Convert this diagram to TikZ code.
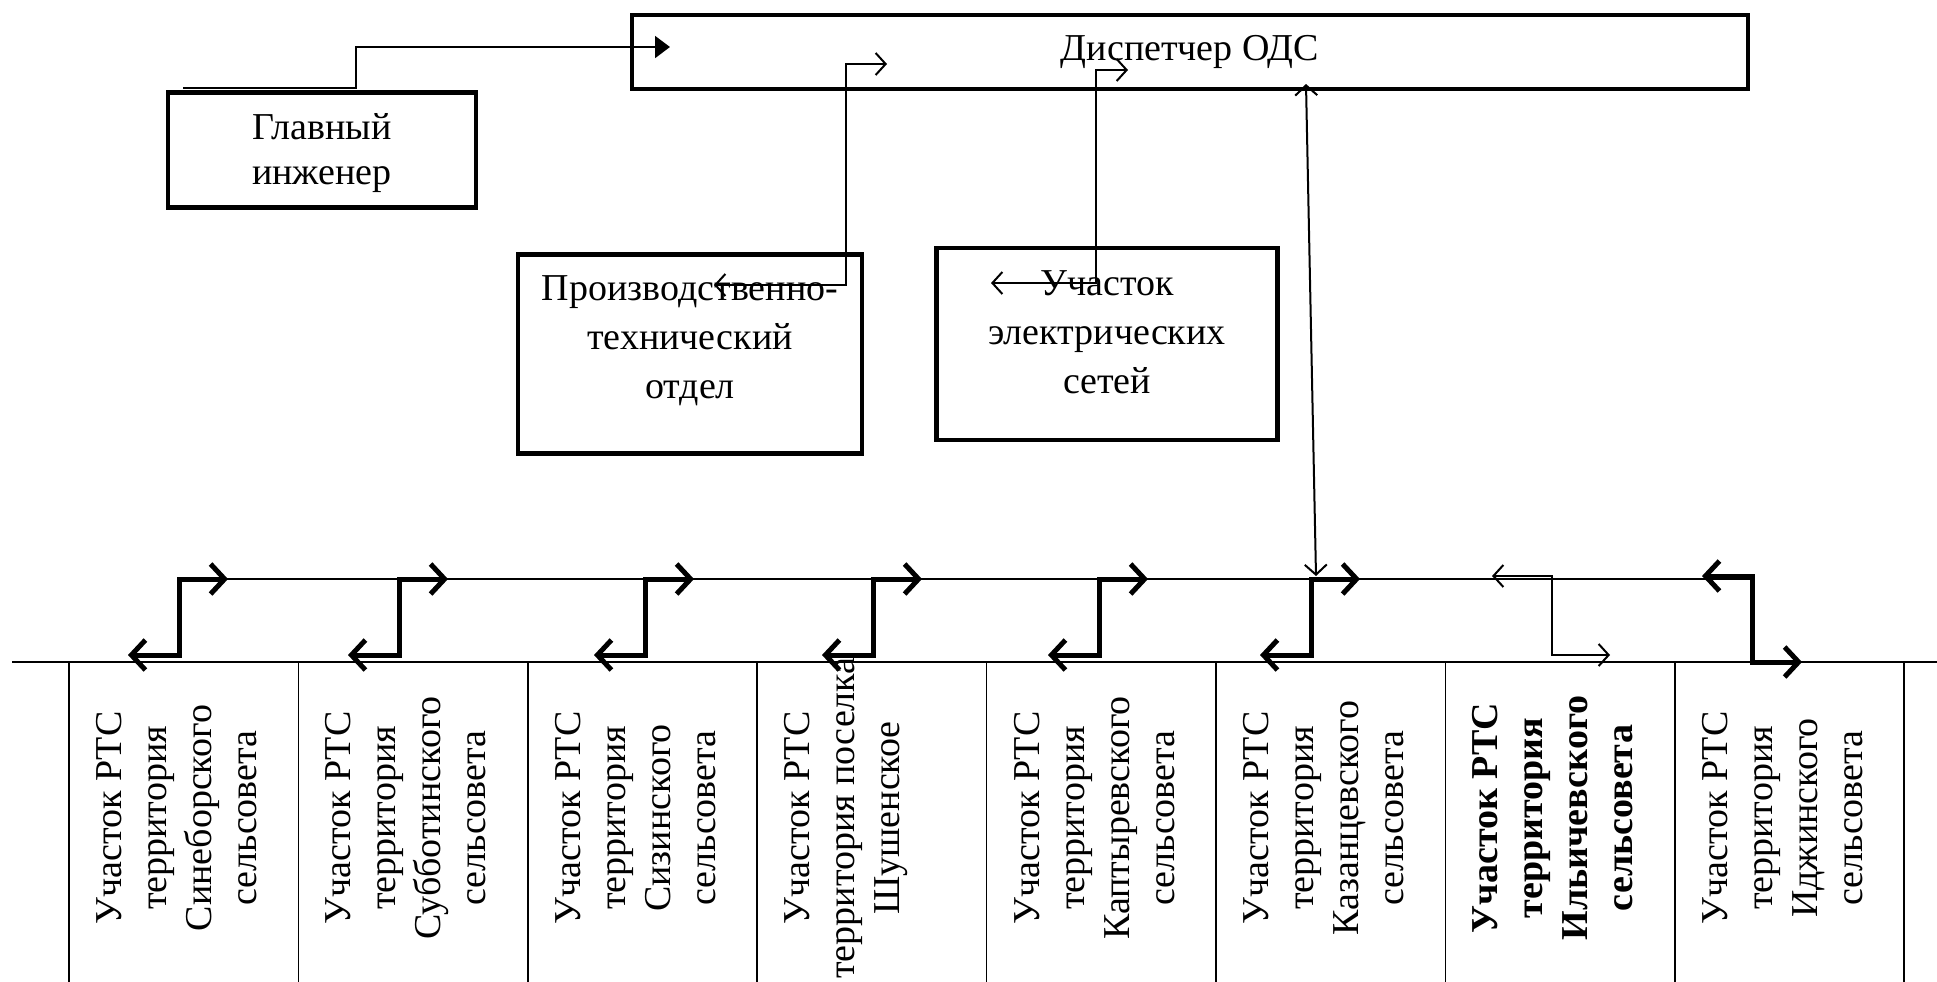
\documentclass[tikz,border=0pt]{standalone}
\usepackage{fontspec}
\setmainfont{Liberation Serif}
\usetikzlibrary{arrows.meta}
\newcommand\boxfont{\fontsize{19pt}{24.5pt}\selectfont}
\newcommand\unitfont{\fontsize{19pt}{22.5pt}\selectfont}
\tikzset{
  box/.style  = {shape=rectangle, draw, line width=2.4pt,
                 align=center, inner sep=0pt, font=\boxfont},
  txt/.style  = {align=center, inner sep=0pt, font=\boxfont},
  unit/.style = {txt, font=\unitfont, rotate=90, anchor=north},
  feed/.style = {line width=1pt, -{Triangle[length=7.5pt,width=11pt]}},
  link/.style = {line width=1pt,
                 {Straight Barb[length=5pt,width=11pt]}-{Straight Barb[length=5pt,width=11pt]}},
  hop/.style  = {line width=2.5pt,
                 {Straight Barb[length=7pt,width=15pt]}-{Straight Barb[length=7pt,width=15pt]}},
  bus/.style  = {line width=1pt},
  rule/.style = {line width=0.8pt}
}

\begin{document}
\begin{tikzpicture}[x=0.5pt, y=-0.5pt]
 \useasboundingbox (0,0) rectangle (1937,981);

 % upper boxes
 \node [box, minimum width=154pt, minimum height=57.5pt] (gi) at (322,150) {};
 \node [txt, font=\unitfont] (gi-t) at (322,153) {Главный\\инженер};
 \node [box, minimum width=558pt, minimum height=37pt] (ods) at (1190,52) {Диспетчер ОДС};
 \node [box, minimum width=172pt, minimum height=99.5pt] (pto) at (690,354) {};
 \node [txt] (pto-t) at (690,341) {Производственно-\\технический\\отдел};
 \node [box, minimum width=170.5pt, minimum height=96pt] (ues) at (1107,344) {};
 \node [txt] (ues-t) at (1107,332) {Участок\\электрических\\сетей};

 % ends of the connectors
 \coordinate (gi-out) at (183,88);
 \coordinate (ods-a)  at (670,47);
 \coordinate (ods-b)  at (887,64);
 \coordinate (ods-c)  at (1128,70);
 \coordinate (ods-d)  at (1306,84);
 \coordinate (pto-in) at (714,285);
 \coordinate (ues-in) at (991,283);
 \coordinate (bus-in) at (1316,576);

 \draw [feed] (gi-out) -- (356,88) |- (ods-a);
 \draw [link] (ods-b) -- (846,64) |- (pto-in);
 \draw [link] (ods-c) -- (1096,70) |- (ues-in);
 \draw [link] (ods-d) -- (bus-in);

 % bus and columns
 \draw [bus] (179,579) -- (1752,579);
 \draw [bus] (12,662) -- (1937,662);
 \foreach \i in {0,...,8}
   \draw [rule] ({69+229.4*\i},662) -- ++(0,330);

 \foreach \x in {179,399,645,873,1099,1311}
   \draw [hop] (\x-51,655) -- (\x,655) -- (\x,579) -- (\x+49,579);
 \draw [link] (1492,576) -- (1552,576) -- (1552,655) -- (1610,655);
 \draw [hop] (1702,576) -- (1752,576) -- (1752,662) -- (1802,662);

 \foreach \i/\t in {0/{Участок РТС\\территория\\Синеборского\\сельсовета},
                    1/{Участок РТС\\территория\\Субботинского\\сельсовета},
                    2/{Участок РТС\\территория\\Сизинского\\сельсовета},
                    3/{Участок РТС\\территория поселка\\Шушенское},
                    4/{Участок РТС\\территория\\Каптыревского\\сельсовета},
                    5/{Участок РТС\\территория\\Казанцевского\\сельсовета},
                    6/{\textbf{Участок РТС}\\\textbf{территория}\\\textbf{Ильичевского}\\\textbf{сельсовета}},
                    7/{Участок РТС\\территория\\Иджинского\\сельсовета}}
   \node [unit] (u\i) at ({96+229.4*\i},818) {\t};
\end{tikzpicture}
\end{document}
